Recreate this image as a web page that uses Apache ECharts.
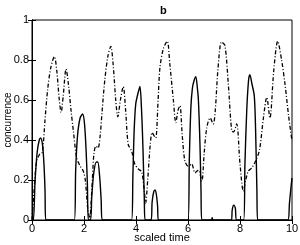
<!DOCTYPE html>
<html>
<head>
<meta charset="utf-8">
<script src="https://cdn.jsdelivr.net/npm/echarts@6/dist/echarts.min.js"></script>
<style>
html,body{margin:0;padding:0;background:#fff;}
#chart{width:300px;height:245px;}
</style>
</head>
<body>
<div id="chart"></div>
<script>
// Solid curve (concurrence)
var tSolid = [0,0.05,0.12,0.2,0.28,0.33,0.4,0.46,0.5,0.53,
  1.63,1.68,1.75,1.85,1.95,2.02,2.08,2.13,2.17,
  2.25,2.3,2.38,2.48,2.53,2.6,2.66,2.7,
  3.83,3.88,3.93,3.99,4.07,4.15,4.21,4.27,4.32,4.35,
  4.58,4.62,4.68,4.73,4.78,4.83,4.86,
  6.0,6.05,6.11,6.17,6.24,6.3,6.36,6.4,6.46,6.5,6.53,
  6.9,6.93,6.96,
  7.67,7.7,7.76,7.82,7.87,
  8.14,8.19,8.26,8.33,8.38,8.46,8.55,8.6,8.65,8.68,
  9.84,9.9,9.95,10];
var cSolid = [0,0,0.2,0.34,0.4,0.41,0.38,0.28,0.15,0,
  0,0.25,0.42,0.51,0.53,0.48,0.35,0.18,0,
  0,0.12,0.24,0.29,0.29,0.22,0.1,0,
  0,0.22,0.45,0.58,0.63,0.668,0.56,0.35,0.1,0,
  0,0.09,0.14,0.15,0.13,0.07,0,
  0,0.3,0.56,0.66,0.7,0.717,0.66,0.6,0.38,0.15,0,
  0,0.012,0,
  0,0.05,0.074,0.06,0,
  0,0.28,0.55,0.7,0.727,0.68,0.62,0.45,0.15,0,
  0,0.08,0.15,0.21];

// Dash-dot curve
var tDash = [0,0.08,0.18,0.3,0.4,0.5,0.6,0.72,0.86,0.95,1.05,1.12,1.2,1.31,1.4,1.5,1.59,1.72,1.85,1.97,2.05,2.15,2.22,
  2.3,2.38,2.46,2.54,2.62,2.7,2.8,2.92,3.03,3.12,3.22,3.3,3.4,3.51,3.6,3.7,3.83,3.96,4.09,4.22,4.32,4.37,
  4.45,4.55,4.62,4.7,4.76,4.85,4.92,5.05,5.2,5.3,5.44,5.53,5.62,5.69,5.78,5.88,6.0,6.14,6.27,6.4,6.53,
  6.62,6.72,6.85,6.97,7.05,7.15,7.29,7.42,7.55,7.68,7.75,7.87,8.0,8.13,8.22,8.32,8.45,8.6,8.75,8.9,9.03,9.15,
  9.3,9.45,9.6,9.73,9.87,10];
var cDash = [0,0.15,0.295,0.33,0.34,0.5,0.65,0.76,0.817,0.75,0.6,0.538,0.62,0.755,0.68,0.55,0.446,0.31,0.27,0.245,0.2,0.05,0.01,
  0.15,0.33,0.37,0.36,0.42,0.55,0.7,0.82,0.868,0.78,0.6,0.516,0.6,0.667,0.55,0.378,0.345,0.278,0.255,0.24,0.144,0.085,
  0.2,0.38,0.437,0.42,0.41,0.6,0.76,0.856,0.894,0.78,0.596,0.487,0.55,0.571,0.42,0.295,0.27,0.28,0.236,0.25,0.194,
  0.33,0.46,0.51,0.48,0.55,0.75,0.89,0.873,0.68,0.446,0.44,0.48,0.28,0.144,0.2,0.245,0.26,0.295,0.35,0.51,0.613,0.51,
  0.75,0.894,0.8,0.68,0.52,0.395];

var xTicks = [0,2,4,6,8,10];
var yTicks = [0,0.2,0.4,0.6,0.8,1];

function pairs(xs, ys){ return xs.map(function(x,i){ return [x, ys[i]]; }); }

var font = 'Liberation Sans, Arial, Helvetica, sans-serif';
var chart = echarts.init(document.getElementById('chart'), null, {renderer:'canvas'});
var axisLine = {show:true, lineStyle:{color:'#000', width:1}};
var tick = {show:true, inside:true, length:4, lineStyle:{color:'#000', width:1}};
chart.setOption({
  animation:false,
  backgroundColor:'#fff',
  title:{text:'b', left:155, top:0, textStyle:{fontFamily:font, fontSize:11, fontWeight:'bold', color:'#000'}},
  grid:{left:32, right:8, top:20, bottom:25, show:true, borderColor:'#000', borderWidth:1,
    containLabel:false, outerBoundsMode:'none'},
  xAxis:[{
    type:'value', min:0, max:10, interval:2, position:'bottom',
    axisLine:axisLine, axisTick:tick, splitLine:{show:false},
    axisLabel:{fontFamily:font, fontSize:11, color:'#000', margin:3,
      formatter:function(v){ return xTicks.indexOf(v) >= 0 ? String(v) : ''; }},
    name:'scaled time', nameLocation:'middle', nameGap:12, nameMoveOverlap:false,
    nameTextStyle:{fontFamily:font, fontSize:11, color:'#000'}
  },{
    type:'value', min:0, max:10, interval:2, position:'top',
    axisLine:axisLine, axisTick:tick, axisLabel:{show:false}, splitLine:{show:false}
  }],
  yAxis:[{
    type:'value', min:0, max:1, interval:0.2, position:'left',
    axisLine:axisLine, axisTick:tick, splitLine:{show:false},
    axisLabel:{fontFamily:font, fontSize:11, color:'#000', margin:3,
      formatter:function(v){ var r = Math.round(v*10)/10; return yTicks.indexOf(r) >= 0 ? String(r) : ''; }},
    name:'concurrence', nameLocation:'middle', nameGap:19, nameMoveOverlap:false,
    nameTextStyle:{fontFamily:font, fontSize:10, color:'#000'}
  },{
    type:'value', min:0, max:1, interval:0.2, position:'right',
    axisLine:axisLine, axisTick:tick, axisLabel:{show:false}, splitLine:{show:false}
  }],
  series:[{
    type:'line', xAxisIndex:0, yAxisIndex:0, data:pairs(tDash, cDash),
    showSymbol:false, smooth:0.3, clip:true,
    lineStyle:{color:'#000', width:1.3, type:[4,2,1,2]}
  },{
    type:'line', xAxisIndex:0, yAxisIndex:0, data:pairs(tSolid, cSolid),
    showSymbol:false, smooth:0.3, clip:true,
    lineStyle:{color:'#000', width:1.4, type:'solid'}
  }]
});
</script>
</body>
</html>
